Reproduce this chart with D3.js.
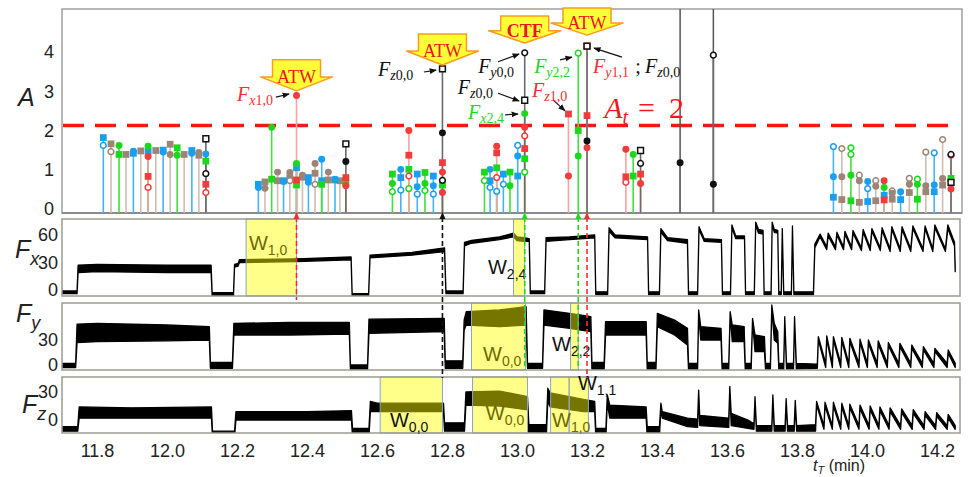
<!DOCTYPE html>
<html>
<head>
<meta charset="utf-8">
<script src="https://cdn.jsdelivr.net/npm/d3@7"></script>
<style>
  body { margin: 0; background: #fff; }
  svg { display: block; font-family: "Liberation Sans", Arial, sans-serif; }
</style>
</head>
<body>
<div id="chart"></div>
<script>
// ---- stem plot: [t (min), A, marker]  s=square c=circle o=open circle q=open square
const blueMarks = [
  [11.818, 1.82, 's'], [11.818, 1.62, 'o'], [11.904, 1.47, 'c'], [11.904, 1.42, 's'],
  [11.946, 1.47, 's'], [11.989, 1.50, 's'], [11.989, 1.45, 'c'], [12.071, 1.49, 's'],
  [12.071, 1.42, 'c'], [12.111, 1.40, 'c'],
  [12.261, 0.63, 's'], [12.261, 0.55, 'c'], [12.333, 0.72, 's'], [12.333, 0.70, 'c'],
  [12.370, 1.05, 's'], [12.404, 0.80, 's'], [12.404, 0.68, 'c'], [12.442, 1.27, 'c'],
  [12.442, 0.72, 's'], [12.480, 0.76, 'c'], [12.480, 0.74, 's'],
  [12.668, 1.01, 'c'], [12.668, 0.80, 's'], [12.668, 0.48, 'o'], [12.715, 0.89, 's'],
  [12.715, 0.57, 'c'], [12.715, 0.38, 'o'], [12.761, 0.84, 's'], [12.761, 0.59, 'c'],
  [12.761, 0.38, 'o'],
  [12.923, 1.01, 'c'], [12.923, 0.72, 's'], [12.923, 0.55, 'o'], [12.942, 0.45, 'o'],
  [12.961, 0.89, 's'], [12.961, 0.63, 'o'], [13.002, 1.62, 'o'], [13.002, 1.35, 'c'],
  [13.002, 0.84, 's'],
  [13.904, 1.59, 'o'], [13.904, 0.82, 'c'], [13.904, 0.30, 's'], [14.002, 0.70, 'c'],
  [14.002, 0.52, 'o'], [14.002, 0.19, 's'], [14.049, 0.35, 's'], [14.096, 0.44, 'c'],
  [14.096, 0.24, 's'], [14.192, 1.43, 'o'], [14.192, 0.61, 'c'], [14.192, 0.44, 's']
];
const brownMarks = [
  [11.840, 1.66, 's'], [11.840, 1.46, 'o'], [11.883, 1.39, 's'], [11.925, 1.48, 's'],
  [11.968, 1.49, 's'], [12.009, 1.65, 's'], [12.009, 1.39, 'c'], [12.049, 1.39, 's'],
  [12.091, 1.44, 'c'], [12.091, 1.37, 's'],
  [12.280, 0.69, 's'], [12.280, 0.53, 'c'], [12.316, 0.94, 'c'], [12.316, 0.72, 's'],
  [12.351, 0.93, 'c'], [12.351, 0.80, 's'], [12.351, 0.72, 'o'], [12.387, 0.86, 'c'],
  [12.387, 0.81, 's'], [12.423, 1.16, 'c'], [12.423, 0.91, 's'], [12.423, 0.63, 'o'],
  [12.461, 0.94, 'c'], [12.461, 0.74, 's'], [12.494, 0.72, 's'],
  [13.928, 1.54, 'o'], [13.928, 0.82, 'c'], [13.928, 0.24, 's'], [13.978, 0.86, 'o'],
  [13.978, 0.72, 'c'], [13.978, 0.17, 's'], [14.025, 0.72, 'o'], [14.025, 0.58, 'c'],
  [14.025, 0.21, 's'], [14.072, 0.46, 'o'], [14.072, 0.40, 'c'], [14.072, 0.25, 's'],
  [14.121, 0.78, 'o'], [14.121, 0.63, 'c'], [14.121, 0.42, 's'], [14.168, 1.45, 'o'],
  [14.168, 0.59, 'c'], [14.168, 0.44, 's'], [14.216, 1.77, 'o'], [14.216, 0.78, 'c'],
  [14.216, 0.61, 's']
];
const greenMarks = [
  [11.863, 1.62, 'c'], [11.863, 1.39, 's'], [11.946, 1.60, 'c'], [12.029, 1.56, 's'],
  [12.029, 1.37, 'c'], [12.111, 1.22, 's'],
  [12.299, 2.08, 'c'], [12.299, 0.76, 's'], [12.370, 1.16, 'c'], [12.370, 0.61, 's'],
  [12.442, 0.63, 's'], [12.511, 0.66, 's'],
  [12.644, 0.89, 's'], [12.644, 0.65, 'c'], [12.644, 0.44, 'o'], [12.691, 1.01, 's'],
  [12.691, 0.52, 'o'], [12.737, 0.93, 's'], [12.737, 0.65, 'c'], [12.737, 0.47, 'o'],
  [12.787, 0.61, 's'],
  [12.907, 0.94, 's'], [12.907, 0.72, 'o'], [12.942, 1.05, 's'], [12.980, 0.94, 's'],
  [12.980, 0.59, 'c'], [13.022, 2.43, 'c'], [13.022, 1.28, 's'], [13.022, 0.94, 'o'],
  [13.175, 3.97, 'o'], [13.175, 2.00, 's'], [13.175, 1.35, 'c'], [13.332, 1.39, 'c'],
  [13.332, 0.84, 's'],
  [13.954, 1.56, 'o'], [13.954, 1.39, 'o'], [13.954, 0.86, 'c'], [13.954, 0.21, 's'],
  [14.049, 0.55, 'c'], [14.144, 0.76, 'o'], [14.144, 0.63, 'c'], [14.144, 0.25, 's'],
  [14.240, 0.78, 's']
];
const redMarks = [
  [11.946, 1.34, 'c'], [11.946, 0.83, 's'], [11.946, 0.55, 'o'], [12.111, 0.63, 's'],
  [12.111, 0.42, 'o'],
  [12.370, 2.89, 'c'], [12.370, 0.74, 's'], [12.511, 0.80, 's'], [12.511, 0.59, 'c'],
  [12.691, 2.00, 'c'], [12.691, 1.37, 's'], [12.691, 0.84, 'o'], [12.787, 1.18, 's'],
  [12.787, 0.94, 'c'], [12.787, 0.42, 'c'],
  [12.942, 1.60, 'c'], [12.942, 1.43, 's'], [12.942, 0.80, 'o'], [13.022, 2.08, 'c'],
  [13.022, 1.86, 'o'], [13.022, 1.54, 's'], [13.147, 2.42, 's'], [13.147, 0.84, 'c'],
  [13.200, 4.15, 'q'], [13.200, 2.38, 's'], [13.200, 1.56, 'c'], [13.311, 1.52, 'c'],
  [13.311, 0.82, 's'], [13.311, 0.68, 'o'], [13.353, 0.89, 's'], [13.353, 0.65, 'c'],
  [14.049, 0.72, 'c'], [14.049, 0.23, 's'], [14.240, 1.37, 'c'], [14.240, 0.51, 'c']
];
const blackMarks = [
  [12.111, 1.79, 'q'], [12.111, 0.90, 'o'], [12.511, 1.66, 'q'], [12.511, 1.21, 'c'],
  [12.787, 3.57, 'q'], [12.787, 1.94, 'c'], [12.787, 0.73, 'o'], [13.022, 3.98, 'o'],
  [13.022, 2.77, 'q'], [13.200, 4.15, 'q'], [13.200, 1.73, 'c'], [13.353, 1.49, 'q'],
  [13.353, 1.16, 'o'], [13.466, 1.18, 'c'], [13.561, 3.92, 'o'], [13.561, 0.63, 'c'],
  [14.240, 1.39, 'o'], [14.240, 0.68, 'q']
];
const fullStems = [13.466, 13.561];
const aTicks = [0, 1, 2, 3, 4];
const aThreshold = 2.13;

// ---- force traces: [t (min), low edge, high edge] of the noisy trace
const fxTrace = [
  [11.700, -4, -1], [11.743, -4, -1], [11.746, 19, 27], [11.800, 20, 28], [12.000, 19, 27],
  [12.126, 19, 27], [12.129, -6, -3], [12.190, -6, -3], [12.193, 25, 28], [12.203, 26, 29],
  [12.207, 30, 33], [12.370, 31, 34], [12.526, 33, 36], [12.529, -7, -4], [12.576, -7, -4],
  [12.580, 35, 38], [12.700, 38, 41], [12.793, 42, 46], [12.797, -4, -1], [12.846, -4, -1],
  [12.850, 48, 52], [12.870, 51, 54], [12.950, 55, 58], [12.990, 58, 62], [13.000, 54, 58],
  [13.020, 53, 57], [13.035, 53, 56], [13.038, -4, -1], [13.079, -4, -1], [13.083, 53, 57],
  [13.150, 55, 58], [13.222, 57, 60], [13.225, -5, -2], [13.259, -5, -2], [13.263, 64, 68],
  [13.280, 57, 60], [13.373, 55, 58], [13.376, -5, -2], [13.407, -5, -2], [13.411, 63, 67],
  [13.430, 54, 57], [13.487, 51, 55], [13.490, -5, -2], [13.516, -5, -2], [13.520, 66, 69],
  [13.535, 53, 56], [13.584, 52, 55], [13.587, -5, -2], [13.610, -5, -2], [13.614, 68, 71],
  [13.625, 56, 59], [13.650, 56, 59], [13.653, -5, -2], [13.678, -5, -2], [13.682, 71, 74],
  [13.690, 62, 66], [13.703, 61, 65], [13.706, -5, -2], [13.726, -5, -2], [13.729, 71, 74],
  [13.735, 63, 66], [13.745, 62, 65], [13.748, -5, -2], [13.755, -5, -2], [13.758, 64, 67],
  [13.762, -5, -2], [13.784, -5, -2], [13.787, 67, 70], [13.791, -5, -2], [13.847, -5, -2],
  [13.851, 46, 50], [13.866, 58, 61], [13.885, 44, 47], [13.889, 59, 62], [13.910, 44, 47],
  [13.914, 60, 63], [13.933, 44, 47], [13.937, 61, 64], [13.956, 44, 47], [13.960, 62, 65],
  [13.984, 43, 46], [13.989, 63, 66], [14.009, 43, 46], [14.014, 64, 67], [14.038, 43, 46],
  [14.043, 65, 68], [14.066, 42, 45], [14.071, 66, 69], [14.095, 42, 45], [14.100, 66, 69],
  [14.125, 42, 45], [14.131, 67, 70], [14.160, 42, 45], [14.166, 67, 70], [14.188, 42, 45],
  [14.194, 68, 71], [14.224, 42, 45], [14.231, 67, 71], [14.250, 48, 52], [14.252, 20, 24]
];
const fyTrace = [
  [11.700, -3, 2], [11.739, -3, 2], [11.743, 27, 49], [11.800, 28, 50], [12.000, 29, 48],
  [12.121, 30, 46], [12.124, -4, 3], [12.187, -4, 3], [12.191, 36, 50], [12.350, 36, 51],
  [12.521, 37, 51], [12.524, -5, 0], [12.573, -5, 0], [12.577, 38, 55], [12.792, 40, 56],
  [12.795, -4, 5], [12.845, -4, 5], [12.849, 42, 54], [12.855, 48, 64], [12.950, 46, 66],
  [13.026, 48, 70], [13.030, -4, 2], [13.073, -4, 2], [13.077, 48, 66], [13.150, 44, 62],
  [13.211, 40, 58], [13.214, -5, 3], [13.249, -5, 3], [13.253, 36, 52], [13.369, 36, 52],
  [13.372, -5, 3], [13.397, -5, 3], [13.401, 46, 62], [13.450, 36, 54], [13.487, 24, 44],
  [13.490, -5, 2], [13.516, -5, 2], [13.519, 60, 66], [13.525, 30, 46], [13.583, 30, 44],
  [13.586, -5, 2], [13.605, -5, 2], [13.609, 60, 64], [13.615, 28, 48], [13.649, 28, 46],
  [13.652, -5, 2], [13.669, -5, 2], [13.673, 52, 56], [13.680, 16, 36], [13.707, 16, 34],
  [13.710, -5, 2], [13.724, -5, 2], [13.728, 68, 72], [13.735, 30, 50], [13.745, 26, 40],
  [13.748, -5, 2], [13.762, -5, 2], [13.765, 54, 58], [13.770, -5, 2], [13.790, -5, 2],
  [13.793, 54, 58], [13.798, -5, 2], [13.858, -4, 1], [13.861, 30, 34], [13.882, -3, 2],
  [13.885, 31, 35], [13.901, -3, 2], [13.904, 30, 34], [13.925, -3, 2], [13.928, 29, 33],
  [13.948, -3, 2], [13.951, 28, 32], [13.977, -3, 2], [13.980, 27, 31], [14.001, -3, 2],
  [14.004, 26, 30], [14.029, -3, 2], [14.032, 25, 29], [14.058, -3, 2], [14.061, 23, 27],
  [14.091, -3, 2], [14.094, 22, 26], [14.125, -3, 2], [14.128, 20, 24], [14.158, -3, 2],
  [14.161, 18, 22], [14.191, -3, 2], [14.194, 16, 20], [14.229, -3, 2], [14.232, 14, 18],
  [14.252, -3, 2]
];
const fzTrace = [
  [11.700, -12, -7], [11.745, -12, -7], [11.749, 2, 14], [11.900, 2, 13], [12.127, 2, 14],
  [12.130, -18, -12], [12.193, -18, -12], [12.197, 0, 9], [12.400, 0, 9], [12.527, 0, 10],
  [12.530, -18, -9], [12.577, -18, -9], [12.581, 9, 20], [12.600, 9, 18], [12.790, 9, 18],
  [12.793, -12, -3], [12.850, -12, -3], [12.854, 16, 30], [12.950, 15, 31], [13.030, 11, 25],
  [13.034, -16, -5], [13.084, -16, -5], [13.088, 20, 34], [13.095, 14, 29], [13.190, 9, 22],
  [13.222, 9, 20], [13.225, -18, -9], [13.254, -18, -9], [13.258, 18, 27], [13.265, 2, 16],
  [13.369, 2, 14], [13.372, -18, -7], [13.407, -18, -7], [13.411, 12, 18], [13.415, 2, 9],
  [13.487, -7, 2], [13.516, -8, 1], [13.519, 28, 32], [13.522, -6, 5], [13.605, -8, 2],
  [13.608, 32, 36], [13.612, -6, 7], [13.660, -9, 0], [13.677, -10, -4], [13.680, 20, 25],
  [13.684, -12, -6], [13.728, -12, -6], [13.731, 22, 27], [13.735, -12, -6], [13.766, -12, -6],
  [13.769, 19, 23], [13.773, -12, -6], [13.792, -12, -6], [13.795, 17, 21], [13.799, -12, -6],
  [13.853, -12, -5], [13.856, 16, 20],
  [13.877, -10, -6], [13.880, 15, 19], [13.901, -10, -6], [13.904, 15, 19], [13.925, -10, -6],
  [13.928, 14, 18], [13.948, -10, -6], [13.951, 13, 17], [13.977, -10, -6], [13.980, 12, 16],
  [14.006, -10, -6], [14.009, 11, 15], [14.034, -10, -6], [14.037, 10, 14], [14.063, -10, -6],
  [14.066, 9, 13], [14.096, -10, -6], [14.099, 8, 12], [14.129, -10, -6], [14.132, 7, 11],
  [14.163, -10, -6], [14.166, 5, 9], [14.196, -10, -6], [14.199, 4, 8], [14.229, -10, -6],
  [14.232, 2, 6], [14.252, -10, -6]
];
const xTicks = [11.8, 12.0, 12.2, 12.4, 12.6, 12.8, 13.0, 13.2, 13.4, 13.6, 13.8, 14.0, 14.2];

// ---- analysis windows, events and annotations
const windows = [
  {p: 0, t0: 12.226, t1: 12.370, idx: '1,0', lt: 12.234, lv: 44, col: '#6e6800'},
  {p: 0, t0: 12.990, t1: 13.022, idx: '2,4', lt: 12.917, lv: 18, col: '#111'},
  {p: 1, t0: 12.870, t1: 13.024, idx: '0,0', lt: 12.903, lv: 5, col: '#6e6800'},
  {p: 1, t0: 13.153, t1: 13.175, idx: '2,2', lt: 13.100, lv: 17, col: '#111'},
  {p: 2, t0: 12.609, t1: 12.787, idx: '0,0', lt: 12.637, lv: -7, col: '#111'},
  {p: 2, t0: 12.873, t1: 13.030, idx: '0,0', lt: 12.911, lv: 0, col: '#6e6800'},
  {p: 2, t0: 13.096, t1: 13.149, idx: '1,0', lt: 13.100, lv: -8, col: '#6e6800'},
  {p: 2, t0: 13.149, t1: 13.204, idx: '1,1', lt: 13.174, lv: 32, col: '#111'}
];
const events = [
  {t: 12.370, col: '#f03030', end: 'x'},
  {t: 12.787, col: '#111', end: 'z'},
  {t: 13.022, col: '#22d822', end: 'y'},
  {t: 13.175, col: '#22d822', end: 'y'},
  {t: 13.200, col: '#f03030', end: 'z'}
];
const callouts = [
  {t: 12.370, a: 3.01, text: 'ATW', bold: false, h: 31},
  {t: 12.787, a: 3.67, text: 'ATW', bold: false, h: 31},
  {t: 13.022, a: 4.23, text: 'CTF', bold: true, h: 27},
  {t: 13.200, a: 4.43, text: 'ATW', bold: false, h: 27}
];
const pointLabels = [
  {t: 12.200, a: 2.75, sub: 'x', idx: '1,0', col: '#f03030'},
  {t: 12.603, a: 3.39, sub: 'z', idx: '0,0', col: '#111'},
  {t: 12.889, a: 3.46, sub: 'y', idx: '0,0', col: '#111'},
  {t: 12.831, a: 2.93, sub: 'z', idx: '0,0', col: '#111'},
  {t: 12.860, a: 2.29, sub: 'x', idx: '2,4', col: '#22d822'},
  {t: 13.049, a: 3.46, sub: 'y', idx: '2,2', col: '#22d822'},
  {t: 13.043, a: 2.85, sub: 'z', idx: '1,0', col: '#f03030'},
  {t: 13.217, a: 3.46, sub: 'y', idx: '1,1', col: '#f03030'},
  {t: 13.366, a: 3.46, sub: 'z', idx: '0,0', col: '#111'}
];
const pointers = [
  [12.311, 2.85, 12.349, 2.93], [12.734, 3.49, 12.769, 3.54], [12.946, 3.75, 13.006, 3.95],
  [12.946, 2.95, 13.006, 2.75], [12.966, 2.40, 13.003, 2.42], [13.123, 3.80, 13.157, 3.87],
  [13.103, 2.78, 13.137, 2.50], [13.300, 3.87, 13.220, 4.10]
];

// ---- layout
const w = 973, h = 477;
const x = d3.scaleLinear().domain([11.7, 14.2714]).range([62, 962]);
const yA = d3.scaleLinear().domain([0, 4]).range([209, 52]);
const topY0 = 9, topY1 = 213;

const panels = [
  {trace: fxTrace, top: 219, bottom: 296, y: d3.scaleLinear().domain([0, 60]).range([290, 235]), ticks: [0, 30, 60], sub: 'x', lx: 15, ly: 258},
  {trace: fyTrace, top: 303, bottom: 370, y: d3.scaleLinear().domain([0, 30]).range([365, 340]), ticks: [0, 30], sub: 'y', lx: 16, ly: 322},
  {trace: fzTrace, top: 377, bottom: 433, y: d3.scaleLinear().domain([0, 30]).range([420, 392]), ticks: [0, 30], sub: 'z', lx: 22, ly: 413}
];
const endY = {x: 300, y: 370, z: 378};
const serif = '"Liberation Serif", "Times New Roman", serif';

const svg = d3.select('#chart').append('svg').attr('width', w).attr('height', h);
const defs = svg.append('defs');
defs.append('marker').attr('id', 'ptr').attr('viewBox', '0 0 10 10').attr('refX', 9).attr('refY', 5)
    .attr('markerWidth', 6).attr('markerHeight', 6).attr('orient', 'auto')
    .append('path').attr('d', 'M0,1 L10,5 L0,9 z').attr('fill', '#111');

// ---- top panel
svg.append('rect').attr('x', 62).attr('y', topY0).attr('width', 900).attr('height', topY1 - topY0)
   .attr('fill', 'none').attr('stroke', '#a0a0a0').attr('stroke-width', 1.5);
svg.append('line').attr('x1', 62).attr('x2', 962).attr('y1', topY1).attr('y2', topY1)
   .attr('stroke', '#8a8a8a').attr('stroke-width', 2);

svg.append('g').attr('transform', 'translate(56,0)')
   .call(d3.axisLeft(yA).tickValues(aTicks).tickSize(0).tickPadding(2).tickFormat(d3.format('d')))
   .call(g => g.select('.domain').remove())
   .selectAll('text').style('font-size', '18px').style('font-family', '"Liberation Sans", Arial, sans-serif').attr('fill', '#222');

svg.append('text').attr('x', 18).attr('y', 106).style('font-size', '25px').style('font-style', 'italic').attr('fill', '#222').text('A');

svg.append('line').attr('x1', 63).attr('x2', 958).attr('y1', yA(aThreshold)).attr('y2', yA(aThreshold))
   .attr('stroke', '#f01818').attr('stroke-width', 3.5).attr('stroke-dasharray', '21,11');

fullStems.forEach(t => {
  svg.append('line').attr('x1', x(t)).attr('x2', x(t)).attr('y1', topY0).attr('y2', topY1)
     .attr('stroke', '#555').attr('stroke-width', 1.5);
});

const series = [
  {marks: brownMarks, stem: '#cdbdb2', fill: '#9d8575'},
  {marks: blueMarks, stem: '#45b4f5', fill: '#1a9ff0'},
  {marks: greenMarks, stem: '#3fe03f', fill: '#1cd81c'},
  {marks: redMarks, stem: '#f6a3a3', fill: '#f23b3b'},
  {marks: blackMarks, stem: '#6a6a6a', fill: '#111'}
];

series.forEach(s => {
  const tops = d3.rollups(s.marks, v => d3.max(v, d => d[1]), d => d[0]);
  svg.append('g').selectAll('line').data(tops).join('line')
     .attr('x1', d => x(d[0])).attr('x2', d => x(d[0]))
     .attr('y1', topY1).attr('y2', d => yA(d[1]))
     .attr('stroke', s.stem).attr('stroke-width', 1.6);
});

const symType = {s: d3.symbolSquare, c: d3.symbolCircle, o: d3.symbolCircle, q: d3.symbolSquare};
const symSize = {s: 46, c: 38, o: 26, q: 34};
series.forEach(s => {
  svg.append('g').selectAll('path').data(s.marks).join('path')
     .attr('transform', d => `translate(${x(d[0])},${yA(d[1])})`)
     .attr('d', d => d3.symbol().type(symType[d[2]]).size(symSize[d[2]])())
     .attr('fill', d => (d[2] === 'o' || d[2] === 'q') ? '#fff' : s.fill)
     .attr('stroke', d => (d[2] === 'o' || d[2] === 'q') ? s.fill : 'none')
     .attr('stroke-width', 1.5);
});

// ---- force panels
panels.forEach((p, i) => {
  const cid = 'clip' + i;
  defs.append('clipPath').attr('id', cid).append('rect')
      .attr('x', 62).attr('y', p.top).attr('width', 898).attr('height', p.bottom - p.top);
  const g = svg.append('g');
  const area = d3.area().x(d => x(d[0])).y0(d => p.y(d[1])).y1(d => p.y(d[2]));
  g.append('path').datum(p.trace).attr('d', area).attr('clip-path', `url(#${cid})`)
   .attr('fill', '#000').attr('stroke', '#000').attr('stroke-width', 1.3).attr('stroke-linejoin', 'round');

  windows.filter(wd => wd.p === i).forEach(wd => {
    g.append('rect').attr('x', x(wd.t0)).attr('y', p.top).attr('width', x(wd.t1) - x(wd.t0)).attr('height', p.bottom - p.top)
     .attr('fill', '#ffff00').attr('fill-opacity', 0.46).attr('stroke', '#8fa3c2').attr('stroke-width', 1);
  });

  g.append('rect').attr('x', 62).attr('y', p.top).attr('width', 898).attr('height', p.bottom - p.top)
   .attr('fill', 'none').attr('stroke', '#9c9c90').attr('stroke-width', 1.5);

  g.append('g').attr('transform', 'translate(60,0)')
   .call(d3.axisLeft(p.y).tickValues(p.ticks).tickSize(0).tickPadding(2))
   .call(a => a.select('.domain').remove())
   .selectAll('text').style('font-size', '18px').style('font-family', '"Liberation Sans", Arial, sans-serif').attr('fill', '#222');

  const lab = g.append('text').attr('x', p.lx).attr('y', p.ly).attr('fill', '#222').style('font-style', 'italic');
  lab.append('tspan').style('font-size', '25px').text('F');
  lab.append('tspan').attr('dy', 7).style('font-size', '18px').text(p.sub);

  windows.filter(wd => wd.p === i).forEach(wd => {
    const t = g.append('text').attr('x', x(wd.lt)).attr('y', p.y(wd.lv)).attr('fill', wd.col);
    t.append('tspan').style('font-size', '20px').text('W');
    t.append('tspan').attr('dy', 5).style('font-size', '14px').text(wd.idx);
  });
});

svg.append('g').attr('transform', 'translate(0,433)')
   .call(d3.axisBottom(x).tickValues(xTicks).tickSize(0).tickPadding(11).tickFormat(d3.format('.1f')))
   .call(a => a.select('.domain').remove())
   .selectAll('text').style('font-size', '18px').style('font-family', '"Liberation Sans", Arial, sans-serif').attr('fill', '#222');

const xt = svg.append('text').attr('x', 813).attr('y', 471).attr('fill', '#222').style('font-size', '16px');
xt.append('tspan').style('font-style', 'italic').text('t');
xt.append('tspan').attr('dy', 3).style('font-size', '11px').style('font-style', 'italic').text('T');
xt.append('tspan').attr('dy', -3).text(' (min)');

// ---- event connectors
events.forEach(ev => {
  const ex = x(ev.t);
  svg.append('line').attr('x1', ex).attr('x2', ex).attr('y1', 217).attr('y2', endY[ev.end])
     .attr('stroke', ev.col).attr('stroke-width', 1.6).attr('stroke-dasharray', '5,3');
  svg.append('path').attr('d', `M${ex - 3},219 L${ex},212 L${ex + 3},219 Z`).attr('fill', ev.col);
});

// ---- callout arrows
callouts.forEach(c => {
  const tx = x(c.t), ty = yA(c.a), top = ty - c.h, sh = top + c.h * 0.55;
  svg.append('path')
     .attr('d', `M${tx - 24},${top} L${tx + 24},${top} L${tx + 24},${sh} L${tx + 36},${sh} L${tx},${ty} L${tx - 36},${sh} L${tx - 24},${sh} Z`)
     .attr('fill', '#ffff38').attr('stroke', '#ff9a1a').attr('stroke-width', 1.5).attr('stroke-linejoin', 'round');
  svg.append('text').attr('x', tx).attr('y', sh + 6).attr('text-anchor', 'middle')
     .style('font-family', serif).style('font-size', '18px')
     .style('font-weight', c.bold ? 'bold' : 'normal').attr('fill', '#e8141e').text(c.text);
});

pointers.forEach(pt => {
  svg.append('line').attr('x1', x(pt[0])).attr('y1', yA(pt[1])).attr('x2', x(pt[2])).attr('y2', yA(pt[3]))
     .attr('stroke', '#111').attr('stroke-width', 1.2).attr('marker-end', 'url(#ptr)');
});

pointLabels.forEach(l => {
  const t = svg.append('text').attr('x', x(l.t)).attr('y', yA(l.a)).attr('fill', l.col)
     .style('font-family', serif).style('font-style', 'italic');
  t.append('tspan').style('font-size', '20px').text('F');
  t.append('tspan').attr('dy', 4).style('font-size', '14px').text(l.sub);
  t.append('tspan').style('font-size', '14px').style('font-style', 'normal').text(l.idx);
});
svg.append('text').attr('x', x(13.338)).attr('y', yA(3.46)).attr('fill', '#111')
   .style('font-family', serif).style('font-size', '20px').text(';');

const at = svg.append('text').attr('x', x(13.249)).attr('y', yA(2.32)).attr('fill', '#f01818')
   .style('font-family', serif);
at.append('tspan').style('font-size', '30px').style('font-style', 'italic').text('A');
at.append('tspan').attr('dy', 6).style('font-size', '20px').style('font-style', 'italic').text('t');
at.append('tspan').attr('dy', -6).attr('dx', 10).style('font-size', '30px').text('=');
at.append('tspan').attr('dx', 14).style('font-size', '30px').text('2');
</script>
</body>
</html>
